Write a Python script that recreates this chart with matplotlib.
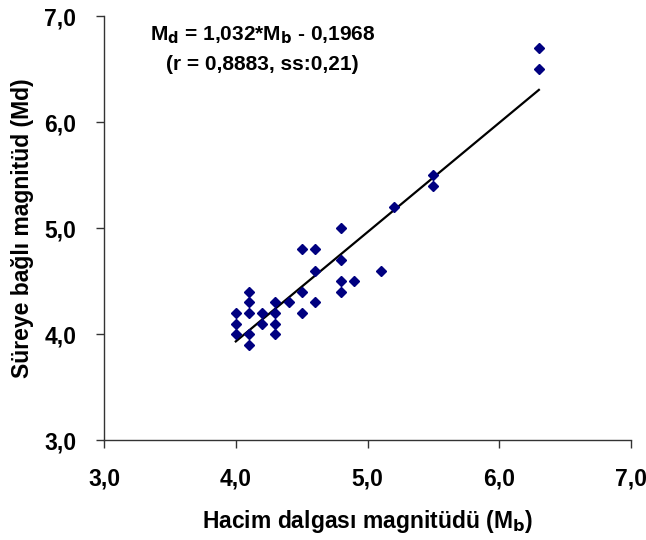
import matplotlib.pyplot as plt
import numpy as np
from matplotlib.ticker import FuncFormatter

# Hacim dalgası (Mb) ve süreye bağlı (Md) magnitüdler
mb = [4.0, 4.0, 4.0,
      4.1, 4.1, 4.1, 4.1, 4.1,
      4.2, 4.2,
      4.3, 4.3, 4.3, 4.3,
      4.4,
      4.5, 4.5, 4.5,
      4.6, 4.6, 4.6,
      4.8, 4.8, 4.8, 4.8,
      4.9,
      5.1,
      5.2,
      5.5, 5.5,
      6.3, 6.3]
md = [4.2, 4.1, 4.0,
      4.4, 4.3, 4.2, 4.0, 3.9,
      4.2, 4.1,
      4.3, 4.2, 4.1, 4.0,
      4.3,
      4.8, 4.4, 4.2,
      4.8, 4.6, 4.3,
      5.0, 4.7, 4.5, 4.4,
      4.5,
      4.6,
      5.2,
      5.5, 5.4,
      6.7, 6.5]

# regresyon katsayıları
egim = 1.032
kesim = -0.1968

plt.rcParams['font.family'] = ['Liberation Sans', 'DejaVu Sans']
plt.rcParams['font.weight'] = 'bold'

fig = plt.figure(figsize=(6.46, 5.4), dpi=100)
ax = fig.add_axes([0.161, 0.185, 0.816, 0.785])

ax.plot(mb, md, linestyle='none', marker='D', markersize=5.5,
        color='#000080', zorder=3)

# regresyon doğrusu
xs = np.array([min(mb), max(mb)])
ax.plot(xs, egim * xs + kesim, color='black', linewidth=1.6, zorder=2)

ax.set_xlim(3.0, 7.0)
ax.set_ylim(3.0, 7.0)
ax.set_xticks([3, 4, 5, 6, 7])
ax.set_yticks([3, 4, 5, 6, 7])
virgul = FuncFormatter(lambda v, p: ('%.1f' % v).replace('.', ','))
ax.xaxis.set_major_formatter(virgul)
ax.yaxis.set_major_formatter(virgul)

for s in ['top', 'right']:
    ax.spines[s].set_visible(False)
for s in ['left', 'bottom']:
    ax.spines[s].set_color('#333333')
    ax.spines[s].set_linewidth(1.0)
ax.tick_params(direction='out', length=6, width=1.0, color='#333333',
               labelsize=16.5)
ax.tick_params(axis='x', pad=14)
ax.tick_params(axis='y', pad=14)
for lab in ax.get_xticklabels() + ax.get_yticklabels():
    lab.set_fontweight('bold')

ax.set_xlabel('Hacim dalgası magnitüdü (M$_\\mathbf{b}$)', fontsize=16.5,
              fontweight='bold', labelpad=12)
ax.set_ylabel('Süreye bağlı magnitüd (Md)', fontsize=16.5,
              fontweight='bold', labelpad=7)

ax.text(0.30, 0.955, 'M$_\\mathbf{d}$ = 1,032*M$_\\mathbf{b}$ - 0,1968',
        transform=ax.transAxes, ha='center', va='center',
        fontsize=15, fontweight='bold')
ax.text(0.30, 0.886, '(r = 0,8883, ss:0,21)', transform=ax.transAxes,
        ha='center', va='center', fontsize=15, fontweight='bold')

fig.savefig('out.png', dpi=100)
